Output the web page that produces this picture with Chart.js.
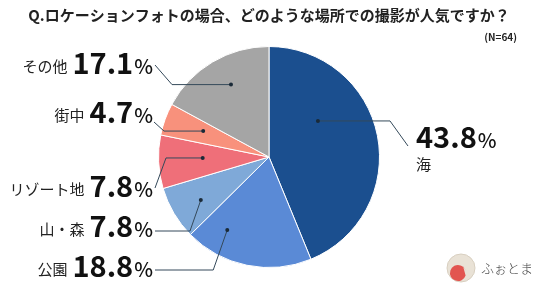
<!DOCTYPE html>
<html><head><meta charset="utf-8">
<script src="https://cdn.jsdelivr.net/npm/chart.js@4/dist/chart.umd.min.js"></script>
<style>html,body{margin:0;padding:0;background:#fff;}#wrap{width:536px;height:302px;}</style>
</head><body><div id="wrap"><canvas id="c" width="536" height="302"></canvas></div>
<script>
const TITLE = 'Q.ロケーションフォトの場合、どのような場所での撮影が人気ですか？';
const SAMPLE = '(N=64)';
const categories = ['海', '公園', '山・森', 'リゾート地', '街中', 'その他'];
const values = [43.8, 18.8, 7.8, 7.8, 4.7, 17.1];
const colors = ['#1b4f8f', '#5a8ad6', '#7fa9d8', '#ef6f79', '#f8917c', '#a5a5a5'];

// label layout (annotation placement only)
const labelLayout = [
  {side:'right', x:416, y:148, catY:170, anchor:[408,146], dot:[0.34,0.55], elbow:'dotY', ex:18},
  {side:'left', x:153, y:277, anchor:[155,270], dot:[0.77,0.76], elbow:'labelY'},
  {side:'left', x:153, y:237, anchor:[155,231], dot:[0.44,0.73], elbow:'labelY'},
  {side:'left', x:153, y:197, anchor:[155,188], dot:[0.56,0.60], elbow:'dotY', ex:11},
  {side:'left', x:153, y:123, anchor:[154,122], dot:[0.59,0.64], elbow:'dotY', ex:10},
  {side:'left', x:153, y:74, anchor:[155,65], dot:[0.55,0.74], elbow:'dotY', ex:17}
];
const FONT = '"Noto Sans CJK JP", "Noto Sans", sans-serif';

const labelPlugin = {
  id: 'labels',
  afterDraw(chart) {
    const ctx = chart.ctx;
    const arcs = chart.getDatasetMeta(0).data;
    ctx.save();
    ctx.fillStyle = '#222';
    ctx.font = 'bold 10px ' + FONT;
    ctx.textAlign = 'right';
    ctx.textBaseline = 'middle';
    ctx.fillText(SAMPLE, 517, 37);

    arcs.forEach((arc, i) => {
      const L = labelLayout[i];
      const p = arc.getProps(['x','y','startAngle','endAngle','outerRadius'], true);
      const a = p.startAngle + L.dot[0] * (p.endAngle - p.startAngle);
      const dx = p.x + Math.cos(a) * p.outerRadius * L.dot[1];
      const dy = p.y + Math.sin(a) * p.outerRadius * L.dot[1];
      let elbow;
      if (L.elbow === 'dotY') {
        elbow = [L.anchor[0] + (L.side === 'left' ? L.ex : -L.ex), dy];
      } else {
        elbow = [dx - (L.anchor[1]-dy)*0.35, L.anchor[1]];
      }
      ctx.strokeStyle = '#34495a';
      ctx.lineWidth = 1;
      ctx.beginPath();
      ctx.moveTo(L.anchor[0], L.anchor[1]);
      ctx.lineTo(elbow[0], elbow[1]);
      ctx.lineTo(dx, dy);
      ctx.stroke();
      ctx.fillStyle = '#1a2a38';
      ctx.beginPath();
      ctx.arc(dx, dy, 2, 0, Math.PI*2);
      ctx.fill();

      const numTxt = values[i].toFixed(1);
      const numFont = 'bold 29px ' + FONT;
      const pctFont = '500 20px ' + FONT;
      const catFont = '15px ' + FONT;
      ctx.fillStyle = '#111';
      ctx.textBaseline = 'alphabetic';
      if (L.side === 'left') {
        ctx.textAlign = 'right';
        ctx.font = pctFont;
        const pw = ctx.measureText('%').width;
        ctx.fillText('%', L.x, L.y);
        ctx.font = numFont;
        const nw = ctx.measureText(numTxt).width;
        ctx.fillText(numTxt, L.x - pw - 1, L.y);
        ctx.font = catFont;
        ctx.fillStyle = '#222';
        ctx.fillText(categories[i], L.x - pw - 1 - nw - 5, L.y - 2);
      } else {
        ctx.textAlign = 'left';
        ctx.font = numFont;
        const nw = ctx.measureText(numTxt).width;
        ctx.fillText(numTxt, L.x, L.y);
        ctx.font = pctFont;
        ctx.fillText('%', L.x + nw + 1, L.y);
        ctx.font = catFont;
        ctx.fillStyle = '#222';
        ctx.fillText(categories[i], L.x, L.catY);
      }
    });

    // logo
    const lx = 461, ly = 268;
    ctx.beginPath();
    ctx.arc(lx, ly, 14, 0, Math.PI*2);
    ctx.fillStyle = '#e9e2d6';
    ctx.fill();
    ctx.strokeStyle = '#d8cfc0';
    ctx.lineWidth = 1;
    ctx.stroke();
    ctx.beginPath();
    ctx.arc(lx - 3, ly + 5, 8, Math.PI*0.1, Math.PI*1.9);
    ctx.lineTo(lx + 2, ly - 2);
    ctx.closePath();
    ctx.fillStyle = '#e25550';
    ctx.fill();
    ctx.fillStyle = '#444';
    ctx.font = '300 13px ' + FONT;
    ctx.textAlign = 'left';
    ctx.textBaseline = 'middle';
    ctx.fillText('ふぉとま', 481, 268);
    ctx.restore();
  }
};

new Chart(document.getElementById('c'), {
  type: 'pie',
  data: {
    labels: categories,
    datasets: [{ data: values, backgroundColor: colors, borderColor: '#ffffff', borderWidth: 1 }]
  },
  options: {
    responsive: false,
    animation: false,
    layout: { padding: { left: 2, right: 0, top: 0, bottom: 34 } },
    plugins: {
      legend: { display: false },
      tooltip: { enabled: false },
      title: {
        display: true, text: TITLE, color: '#222',
        font: { family: FONT, size: 15, weight: 'bold' },
        padding: { top: 6, bottom: 22 }
      }
    }
  },
  plugins: [labelPlugin]
});
</script></body></html>
